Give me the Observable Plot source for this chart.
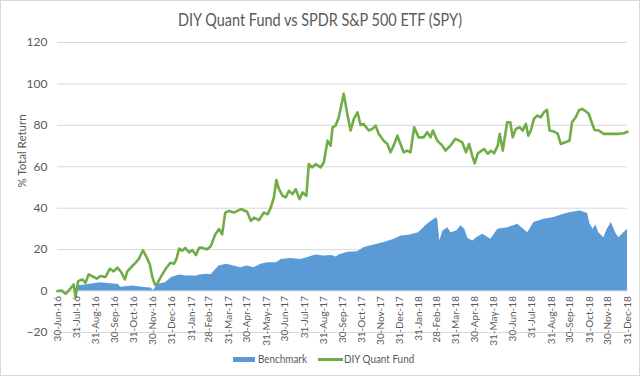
<!DOCTYPE html>
<html>
<head>
<meta charset="utf-8">
<script src="https://cdn.jsdelivr.net/npm/d3@7"></script>
<script src="https://cdn.jsdelivr.net/npm/@observablehq/plot@0.6"></script>
<style>
  body { margin: 0; background: #fff; }
  #chart { position: relative; width: 640px; height: 376px; overflow: hidden; font-family: Lato, "Open Sans", sans-serif; color: #595959; background:#fff; }
  #frame { position: absolute; left: 0; top: 0; width: 638px; height: 374px; border: 1px solid #d9d9d9; pointer-events: none; }
  #title { position: absolute; left: 0; width: 640px; top: 9px; text-align: center; font-size: 17px; line-height: 22px; color: #595959; }
  #title span { display: inline-block; transform: scaleX(0.85); transform-origin: center; white-space: nowrap; }
  #plot { position: absolute; left: 0; top: 34px; }
  #legend { position: absolute; left: 0; top: 351px; width: 640px; height: 16px; font-size: 11.5px; color: #595959; }
  .sw { position: absolute; }
  .lt { position: absolute; top: 0; line-height: 16px; transform: scaleX(0.86); transform-origin: left center; white-space: nowrap; }
</style>
</head>
<body>
<div id="chart">
  <div id="plot"></div>
  <div id="title"><span>DIY Quant Fund vs SPDR S&amp;P 500 ETF (SPY)</span></div>
  <div id="legend">
    <div class="sw" style="left:233px;top:6px;width:22px;height:5px;background:#5b9bd5"></div>
    <div class="lt" style="left:258px">Benchmark</div>
    <div class="sw" style="left:318px;top:7px;width:25px;height:3px;background:#70ad47"></div>
    <div class="lt" style="left:344px">DIY Quant Fund</div>
  </div>
  <div id="frame"></div>
</div>
<script>
// ---- data ----
const tickDates = ["2016-06-30","2016-07-31","2016-08-31","2016-09-30","2016-10-31","2016-11-30","2016-12-31",
  "2017-01-31","2017-02-28","2017-03-31","2017-04-30","2017-05-31","2017-06-30","2017-07-31","2017-08-31",
  "2017-09-30","2017-10-31","2017-11-30","2017-12-31","2018-01-31","2018-02-28","2018-03-31","2018-04-30",
  "2018-05-31","2018-06-30","2018-07-31","2018-08-31","2018-09-30","2018-10-31","2018-11-30","2018-12-31"];
const yTicks = [-20, 0, 20, 40, 60, 80, 100, 120];
const yLabel = "% Total Return";

const fund = [
  ["2016-06-30",0],["2016-07-07",0.2],["2016-07-13",-1.3],["2016-07-21",1.3],["2016-07-26",3.2],["2016-07-29",-2.9],
  ["2016-08-02",4.8],["2016-08-09",5.6],["2016-08-14",4.0],["2016-08-19",8.1],["2016-08-27",6.8],["2016-09-01",6.0],
  ["2016-09-07",7.3],["2016-09-15",6.8],["2016-09-22",10.8],["2016-09-28",9.5],["2016-10-04",11.3],["2016-10-10",9.2],
  ["2016-10-16",5.6],["2016-10-20",9.5],["2016-10-28",12.1],["2016-11-02",13.6],["2016-11-07",15.3],["2016-11-14",19.7],
  ["2016-11-20",16.3],["2016-11-25",12.9],["2016-11-29",6.8],["2016-12-03",3.2],["2016-12-07",3.6],["2016-12-12",6.5],
  ["2016-12-20",10.5],["2016-12-28",13.7],["2017-01-03",13.2],["2017-01-07",15.8],["2017-01-11",20.5],["2017-01-16",19.5],
  ["2017-01-21",20.8],["2017-01-27",18.7],["2017-02-01",19.8],["2017-02-07",17.4],["2017-02-12",20.8],["2017-02-15",21.0],
  ["2017-02-25",20.2],["2017-03-03",21.8],["2017-03-10",27.4],["2017-03-16",29.9],["2017-03-21",27.4],["2017-03-26",37.9],
  ["2017-04-01",38.7],["2017-04-09",37.9],["2017-04-20",39.6],["2017-04-30",38.3],["2017-05-06",33.9],["2017-05-11",35.5],
  ["2017-05-19",34.2],["2017-05-27",37.9],["2017-06-02",37.1],["2017-06-07",40.3],["2017-06-12",45.2],["2017-06-16",53.6],
  ["2017-06-20",49.4],["2017-06-26",46.0],["2017-07-01",45.2],["2017-07-06",48.4],["2017-07-12",46.8],["2017-07-17",49.2],
  ["2017-07-23",44.4],["2017-07-28",47.6],["2017-08-03",46.0],["2017-08-07",61.3],["2017-08-12",59.7],["2017-08-18",61.3],
  ["2017-08-26",59.7],["2017-08-31",62.1],["2017-09-06",72.6],["2017-09-11",70.2],["2017-09-14",79.0],["2017-09-19",79.9],
  ["2017-09-24",83.9],["2017-10-02",95.2],["2017-10-08",85.0],["2017-10-13",77.5],["2017-10-18",83.0],["2017-10-24",86.3],
  ["2017-10-29",80.2],["2017-11-03",80.7],["2017-11-11",77.5],["2017-11-17",78.3],["2017-11-22",79.9],["2017-11-27",75.9],
  ["2017-12-05",72.6],["2017-12-11",71.0],["2017-12-16",67.0],["2017-12-21",70.2],["2017-12-27",75.0],["2018-01-01",71.0],
  ["2018-01-06",67.0],["2018-01-12",67.8],["2018-01-17",67.0],["2018-01-23",79.1],["2018-01-30",74.2],["2018-02-07",74.2],
  ["2018-02-13",76.7],["2018-02-18",74.2],["2018-02-22",77.5],["2018-03-01",72.6],["2018-03-09",70.2],["2018-03-14",67.8],
  ["2018-03-22",70.2],["2018-03-30",73.5],["2018-04-05",72.6],["2018-04-10",71.8],["2018-04-16",67.0],["2018-04-21",71.0],
  ["2018-04-26",65.4],["2018-04-30",61.7],["2018-05-05",66.5],["2018-05-15",68.6],["2018-05-21",66.3],["2018-05-26",67.8],
  ["2018-05-31",66.5],["2018-06-06",70.2],["2018-06-09",75.9],["2018-06-14",67.8],["2018-06-21",81.5],["2018-06-26",81.5],
  ["2018-06-30",74.2],["2018-07-05",78.3],["2018-07-11",79.1],["2018-07-16",77.5],["2018-07-21",80.7],["2018-07-25",75.0],
  ["2018-07-29",77.5],["2018-08-03",83.1],["2018-08-08",84.7],["2018-08-14",83.9],["2018-08-19",86.3],["2018-08-24",87.5],
  ["2018-08-28",77.5],["2018-09-04",77.0],["2018-09-10",76.0],["2018-09-15",71.0],["2018-09-23",72.0],["2018-09-29",72.6],
  ["2018-10-03",81.5],["2018-10-09",83.9],["2018-10-14",87.2],["2018-10-19",88.0],["2018-10-24",87.0],["2018-10-30",85.5],
  ["2018-11-03",82.0],["2018-11-08",77.8],["2018-11-15",77.5],["2018-11-23",75.9],["2018-12-04",75.9],["2018-12-17",75.9],
  ["2018-12-25",76.2],["2018-12-31",76.9]
];

const benchmark = [
  ["2016-06-30",0],["2016-07-31",0],["2016-08-01",1.9],["2016-08-03",2.7],["2016-08-10",2.8],["2016-08-19",3.2],
  ["2016-09-07",4.0],["2016-09-23",3.5],["2016-10-06",3.2],["2016-10-09",1.8],["2016-10-28",2.4],["2016-11-20",1.6],
  ["2016-11-27",1.5],["2016-12-01",0.3],["2016-12-03",1.0],["2016-12-06",3.2],["2016-12-20",4.0],["2016-12-30",6.5],
  ["2017-01-12",7.7],["2017-01-22",7.3],["2017-02-08",7.3],["2017-02-13",7.7],["2017-02-24",8.1],["2017-03-03",7.9],
  ["2017-03-16",12.1],["2017-03-28",12.9],["2017-04-09",12.1],["2017-04-20",11.3],["2017-04-30",12.1],["2017-05-11",11.3],
  ["2017-05-22",12.9],["2017-06-02",13.7],["2017-06-16",13.7],["2017-06-24",15.3],["2017-07-09",15.7],["2017-07-25",15.3],
  ["2017-08-04",16.1],["2017-08-18",17.4],["2017-08-31",16.9],["2017-09-13",17.2],["2017-09-20",16.5],["2017-09-25",17.5],
  ["2017-10-09",18.8],["2017-10-24",19.0],["2017-11-04",21.0],["2017-11-20",22.3],["2017-12-06",23.4],["2017-12-22",25.0],
  ["2018-01-02",26.6],["2018-01-17",27.1],["2018-01-30",28.2],["2018-02-13",32.3],["2018-02-28",35.5],["2018-03-02",33.9],
  ["2018-03-05",24.2],["2018-03-10",29.0],["2018-03-18",30.6],["2018-03-23",28.2],["2018-04-01",29.0],["2018-04-08",31.5],
  ["2018-04-14",29.8],["2018-04-19",25.5],["2018-04-27",24.2],["2018-05-04",26.0],["2018-05-13",27.4],["2018-05-26",25.0],
  ["2018-06-06",29.9],["2018-06-22",30.6],["2018-07-08",32.3],["2018-07-24",28.2],["2018-08-03",33.1],["2018-08-19",34.7],
  ["2018-09-04",35.5],["2018-09-20",37.1],["2018-10-01",37.9],["2018-10-17",38.7],["2018-10-28",37.5],["2018-11-01",32.3],
  ["2018-11-06",29.9],["2018-11-10",32.0],["2018-11-15",28.2],["2018-11-23",25.8],["2018-11-28",29.5],["2018-12-05",33.1],
  ["2018-12-12",28.2],["2018-12-17",25.8],["2018-12-31",29.9]
];

// ---- chart ----
const parse = d3.utcParse("%Y-%m-%d");
const fmt = d3.utcFormat("%d-%b-%y");
const fundData = fund.map(([d, v]) => ({date: parse(d), value: v}));
const benchData = benchmark.map(([d, v]) => ({date: parse(d), value: v}));
const ticks = tickDates.map(parse);

const chart = Plot.plot({
  width: 640,
  height: 320,
  marginLeft: 57,
  marginRight: 13,
  marginTop: 8,
  marginBottom: 22,
  style: {fontFamily: "Lato, 'Open Sans', sans-serif", fontSize: "12px", color: "#595959", background: "transparent", overflow: "visible"},
  x: {type: "utc", domain: [ticks[0], ticks[ticks.length - 1]], axis: null},
  y: {domain: [-20, 120], axis: null},
  marks: [
    Plot.gridY(yTicks, {stroke: "#d9d9d9", strokeOpacity: 1, strokeWidth: 1}),
    Plot.axisY(yTicks, {tickSize: 0, tickPadding: 10, label: null, fill: "#595959"}),
    Plot.areaY(benchData, {x: "date", y: "value", fill: "#5b9bd5", curve: "linear"}),
    Plot.lineY(fundData, {x: "date", y: "value", stroke: "#70ad47", strokeWidth: 2.6, curve: "linear", strokeLinejoin: "round"}),
    Plot.text(ticks, {x: d => d, y: () => 0, text: d => fmt(d), rotate: -90, textAnchor: "end", dy: 5, fill: "#595959", fontSize: 10}),
    Plot.text([yLabel], {frameAnchor: "left", dx: -35, rotate: -90, fill: "#595959", fontSize: 11.5})
  ]
});
document.getElementById("plot").appendChild(chart);
</script>
</body>
</html>
